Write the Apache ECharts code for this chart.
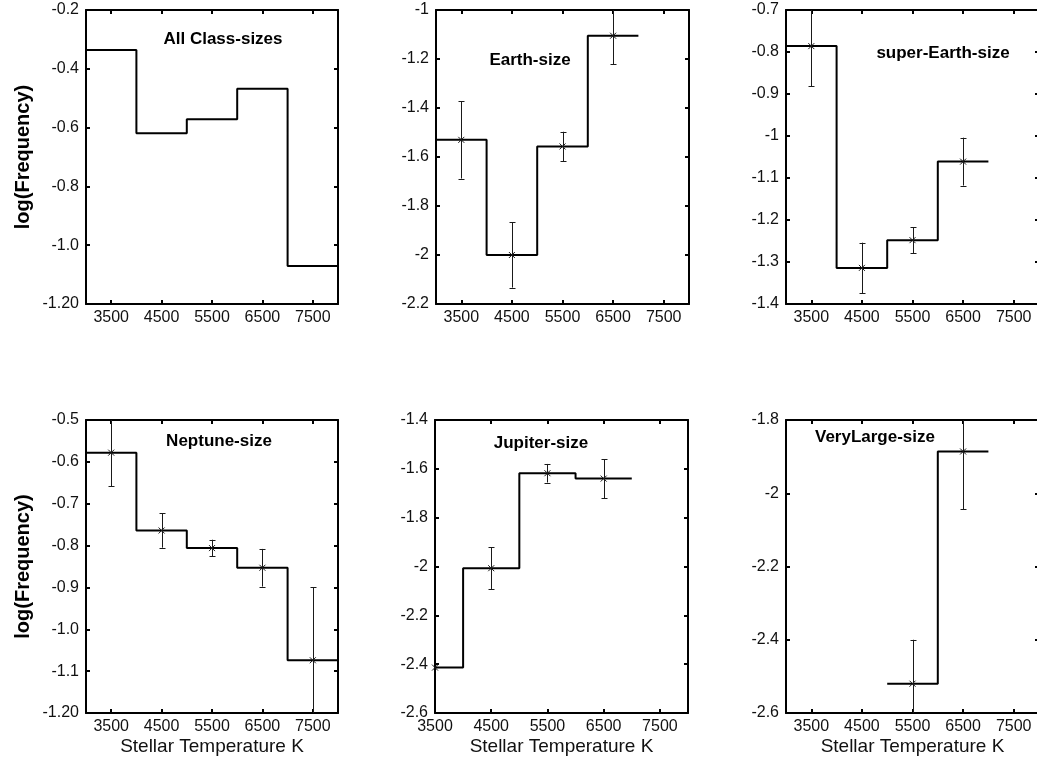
<!DOCTYPE html>
<html>
<head>
<meta charset="utf-8">
<script src="https://cdn.jsdelivr.net/npm/echarts@6/dist/echarts.min.js"></script>
<style>
html,body{margin:0;padding:0;background:#fff;}
#c{width:1037px;height:766px;}
</style>
</head>
<body>
<div id="c"></div>
<script>
// ---------------- DATA ----------------
const xTickValues = [3500, 4500, 5500, 6500, 7500];
const xTickLabels = ['3500', '4500', '5500', '6500', '7500'];

const panelTitles = ['All Class-sizes', 'Earth-size', 'super-Earth-size', 'Neptune-size', 'Jupiter-size', 'VeryLarge-size'];

// All Class-sizes
const allEdges = [3000, 4000, 5000, 6000, 7000, 8000];
const allValues = [-0.336, -0.619, -0.572, -0.468, -1.071];
const allYTicks = [-1.2, -1.0, -0.8, -0.6, -0.4, -0.2];
const allYLabels = ['-1.20', '-1.0', '-0.8', '-0.6', '-0.4', '-0.2'];

// Earth-size
const earthEdges = [3000, 4000, 5000, 6000, 7000];
const earthValues = [-1.53, -2.0, -1.557, -1.105];
const earthErr = [0.158, 0.133, 0.06, 0.117];
const earthYTicks = [-2.2, -2.0, -1.8, -1.6, -1.4, -1.2, -1.0];
const earthYLabels = ['-2.2', '-2', '-1.8', '-1.6', '-1.4', '-1.2', '-1'];

// super-Earth-size
const superEdges = [3000, 4000, 5000, 6000, 7000];
const superValues = [-0.786, -1.314, -1.248, -1.061];
const superErr = [0.095, 0.06, 0.031, 0.057];
const superYTicks = [-1.4, -1.3, -1.2, -1.1, -1.0, -0.9, -0.8, -0.7];
const superYLabels = ['-1.4', '-1.3', '-1.2', '-1.1', '-1', '-0.9', '-0.8', '-0.7'];

// Neptune-size
const neptuneEdges = [3000, 4000, 5000, 6000, 7000, 8000];
const neptuneValues = [-0.578, -0.764, -0.806, -0.853, -1.074];
const neptuneErr = [0.08, 0.041, 0.02, 0.045, 0.174];
const neptuneYTicks = [-1.2, -1.1, -1.0, -0.9, -0.8, -0.7, -0.6, -0.5];
const neptuneYLabels = ['-1.20', '-1.1', '-1.0', '-0.9', '-0.8', '-0.7', '-0.6', '-0.5'];

// Jupiter-size
const jupiterEdges = [3000, 4000, 5000, 6000, 7000];
const jupiterValues = [-2.414, -2.007, -1.618, -1.64];
const jupiterErr = [0, 0.085, 0.038, 0.08];
const jupiterYTicks = [-2.6, -2.4, -2.2, -2.0, -1.8, -1.6, -1.4];
const jupiterYLabels = ['-2.6', '-2.4', '-2.2', '-2', '-1.8', '-1.6', '-1.4'];

// VeryLarge-size
const veryLargeEdges = [5000, 6000, 7000];
const veryLargeValues = [-2.52, -1.886];
const veryLargeErr = [0.12, 0.158];
const veryLargeYTicks = [-2.6, -2.4, -2.2, -2.0, -1.8];
const veryLargeYLabels = ['-2.6', '-2.4', '-2.2', '-2', '-1.8'];

const xAxisName = 'Stellar Temperature K';
const yAxisName = 'log(Frequency)';

// ---------------- LAYOUT / STYLE ----------------
const FONT = 'Liberation Sans, Arial, Helvetica, sans-serif';
const panels = [
  {edges: allEdges, values: allValues, err: null, yt: allYTicks, yl: allYLabels, xMin: 3000,
   grid: {left: 86, top: 10, width: 252, height: 294}, title: [223, 39], yName: true, xName: false},
  {edges: earthEdges, values: earthValues, err: earthErr, yt: earthYTicks, yl: earthYLabels, xMin: 3000,
   grid: {left: 436, top: 10, width: 253, height: 294}, title: [530, 60], yName: false, xName: false},
  {edges: superEdges, values: superValues, err: superErr, yt: superYTicks, yl: superYLabels, xMin: 3000,
   grid: {left: 786, top: 10, width: 253, height: 294}, title: [943, 53], yName: false, xName: false},
  {edges: neptuneEdges, values: neptuneValues, err: neptuneErr, yt: neptuneYTicks, yl: neptuneYLabels, xMin: 3000,
   grid: {left: 86, top: 420, width: 252, height: 293}, title: [219, 441], yName: true, xName: true},
  {edges: jupiterEdges, values: jupiterValues, err: jupiterErr, yt: jupiterYTicks, yl: jupiterYLabels, xMin: 3500,
   grid: {left: 435, top: 420, width: 253, height: 293}, title: [541, 443], yName: false, xName: true},
  {edges: veryLargeEdges, values: veryLargeValues, err: veryLargeErr, yt: veryLargeYTicks, yl: veryLargeYLabels, xMin: 3000,
   grid: {left: 786, top: 420, width: 253, height: 293}, title: [875, 437], yName: false, xName: true}
];

function labelFor(ticks, labels) {
  return function (v) {
    for (let i = 0; i < ticks.length; i++) {
      if (Math.abs(ticks[i] - v) < 1e-6) return labels[i];
    }
    return '';
  };
}

function errRender(params, api) {
  const x = api.value(0), y = api.value(1), e = api.value(2);
  const cs = params.coordSys;
  const c = api.coord([x, y]);
  const px = Math.round(c[0]) + 0.5;
  const top = cs.y, bot = cs.y + cs.height;
  const st = {stroke: '#1a1a1a', lineWidth: 1};
  const children = [];
  if (e > 0) {
    const yHi = api.coord([x, y + e])[1];
    const yLo = api.coord([x, y - e])[1];
    const y1 = Math.max(yHi, top), y2 = Math.min(yLo, bot);
    children.push({type: 'line', shape: {x1: px, y1: y1, x2: px, y2: y2}, style: st});
    if (yHi >= top) children.push({type: 'line', shape: {x1: px - 3, y1: Math.round(yHi) + 0.5, x2: px + 3, y2: Math.round(yHi) + 0.5}, style: st});
    if (yLo <= bot) children.push({type: 'line', shape: {x1: px - 3, y1: Math.round(yLo) + 0.5, x2: px + 3, y2: Math.round(yLo) + 0.5}, style: st});
  }
  const s = 3;
  children.push({type: 'line', shape: {x1: c[0] - s, y1: c[1] - s, x2: c[0] + s, y2: c[1] + s}, style: st});
  children.push({type: 'line', shape: {x1: c[0] - s, y1: c[1] + s, x2: c[0] + s, y2: c[1] - s}, style: st});
  return {type: 'group', children: children};
}

const grids = [], xAxes = [], yAxes = [], series = [], graphics = [];
const black = '#000';
const tickStyle = {show: true, inside: true, length: 4, lineStyle: {color: black, width: 2}};

panels.forEach(function (p, i) {
  grids.push(Object.assign({show: false, containLabel: false, outerBoundsMode: 'none'}, p.grid));
  const xBase = {
    type: 'value', gridIndex: i, min: p.xMin, max: 8000,
    axisLine: {show: true, onZero: false, lineStyle: {color: black, width: 2}},
    splitLine: {show: false}
  };
  xAxes.push(Object.assign({}, xBase, {
    position: 'bottom',
    axisTick: Object.assign({}, tickStyle, {customValues: xTickValues}),
    axisLabel: {show: true, customValues: xTickValues, margin: 6, color: '#111', fontFamily: FONT, fontSize: 16,
      formatter: labelFor(xTickValues, xTickLabels)},
    name: p.xName ? xAxisName : '', nameLocation: 'middle', nameGap: 24,
    nameTextStyle: {color: '#111', fontFamily: FONT, fontSize: 19}
  }));
  xAxes.push(Object.assign({}, xBase, {
    position: 'top',
    axisTick: Object.assign({}, tickStyle, {customValues: xTickValues}),
    axisLabel: {show: false}
  }));
  const yMin = p.yt[0], yMax = p.yt[p.yt.length - 1];
  const yBase = {
    type: 'value', gridIndex: i, min: yMin, max: yMax,
    axisLine: {show: true, onZero: false, lineStyle: {color: black, width: 2}},
    splitLine: {show: false}
  };
  yAxes.push(Object.assign({}, yBase, {
    position: 'left',
    axisTick: Object.assign({}, tickStyle, {customValues: p.yt}),
    axisLabel: {show: true, customValues: p.yt, margin: 7, color: '#111', fontFamily: FONT, fontSize: 16,
      formatter: labelFor(p.yt, p.yl)},
    name: p.yName ? yAxisName : '', nameLocation: 'middle', nameGap: 53,
    nameTextStyle: {color: black, fontFamily: FONT, fontSize: 20, fontWeight: 'bold'}
  }));
  yAxes.push(Object.assign({}, yBase, {
    position: 'right',
    axisTick: Object.assign({}, tickStyle, {customValues: p.yt}),
    axisLabel: {show: false}
  }));

  const stepData = p.edges.map(function (e, k) {
    return [e, p.values[Math.min(k, p.values.length - 1)]];
  });
  series.push({
    type: 'line', xAxisIndex: 2 * i, yAxisIndex: 2 * i, step: 'end', data: stepData,
    symbol: 'none', clip: true, silent: true, animation: false,
    lineStyle: {color: black, width: 2}, z: 3
  });
  if (p.err) {
    const errData = p.values.map(function (v, k) {
      return [(p.edges[k] + p.edges[k + 1]) / 2, v, p.err[k]];
    });
    series.push({
      type: 'custom', xAxisIndex: 2 * i, yAxisIndex: 2 * i, data: errData,
      renderItem: errRender, silent: true, animation: false, z: 4
    });
  }
  graphics.push({
    type: 'text', x: p.title[0], y: p.title[1], z: 10,
    style: {text: panelTitles[i], font: 'bold 17px ' + FONT, fill: black,
      textAlign: 'center', textVerticalAlign: 'middle', align: 'center', verticalAlign: 'middle'}
  });
});

const chart = echarts.init(document.getElementById('c'), null, {renderer: 'canvas'});
chart.setOption({
  backgroundColor: '#fff',
  animation: false,
  grid: grids,
  xAxis: xAxes,
  yAxis: yAxes,
  series: series,
  graphic: graphics
});
</script>
</body>
</html>
